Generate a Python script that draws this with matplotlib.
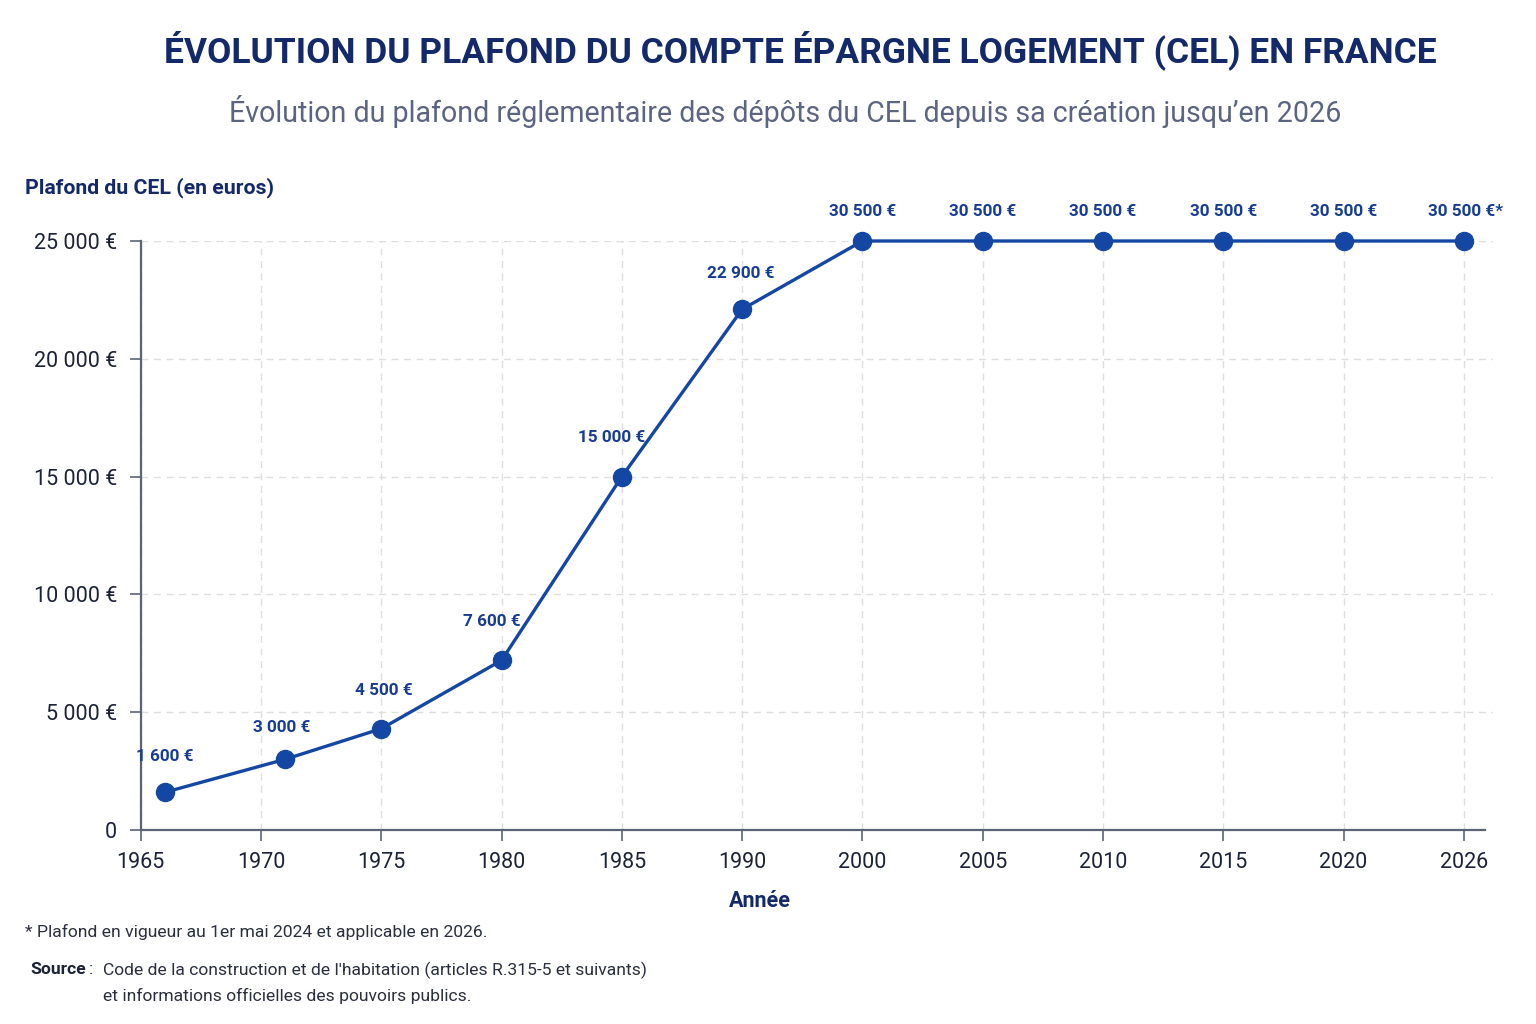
import matplotlib
matplotlib.use('Agg')
import matplotlib.pyplot as plt
import numpy as np

# Données
annees_ticks = [1965, 1970, 1975, 1980, 1985, 1990, 2000, 2005, 2010, 2015, 2020, 2026]
annees_points = [1966, 1971, 1975, 1980, 1985, 1990, 2000, 2005, 2010, 2015, 2020, 2026]
# hauteur des points telle que dessinée (axe plafonné à 25 000 €)
plafond_trace = [1600, 3000, 4300, 7200, 15000, 22100, 25000, 25000, 25000, 25000, 25000, 25000]
etiquettes = ["1 600 €", "3 000 €", "4 500 €", "7 600 €", "15 000 €", "22 900 €",
              "30 500 €", "30 500 €", "30 500 €", "30 500 €", "30 500 €", "30 500 €*"]
y_ticks = [0, 5000, 10000, 15000, 20000, 25000]
y_labels = ["0", "5 000 €", "10 000 €", "15 000 €", "20 000 €", "25 000 €"]

# décalages des étiquettes (en pixels)
decalages = [(0, 36), (-3, 32), (3, 38), (-10, 39), (-10, 39), (-1, 36),
             (0, 29), (0, 29), (0, 29), (0, 29), (0, 29), (2, 29)]

plt.rcParams['font.family'] = ['Roboto', 'DejaVu Sans']

BLEU = '#1447a3'
MARINE = '#14296a'
TEXTE = '#1c2238'
AXE = '#5a6478'
NOTE = '#2a2f3f'

fig = plt.figure(figsize=(15.36, 10.24), dpi=100)
fig.patch.set_facecolor('white')
ax = fig.add_axes([140.7 / 1536, 1 - 830 / 1024, 1352 / 1536, 589 / 1024])

idx = np.arange(len(annees_ticks))
x = np.interp(annees_points, annees_ticks, idx)

ax.plot(x, plafond_trace, color=BLEU, lw=2.4, marker='o', ms=13,
        markerfacecolor=BLEU, markeredgecolor=BLEU, clip_on=False, zorder=3)

for xi, yi, txt, (dx, dy) in zip(x, plafond_trace, etiquettes, decalages):
    ax.annotate(txt, (xi, yi), xytext=(dx * 0.72, dy * 0.72), textcoords='offset points',
                ha='center', va='center', fontsize=12.3, fontweight='bold', color='#173c94')

ax.set_xlim(0, 11.24)
ax.set_ylim(0, 25000)
ax.set_xticks(idx)
ax.set_xticklabels([str(a) for a in annees_ticks])
ax.set_yticks(y_ticks)
ax.set_yticklabels(y_labels)

ax.grid(True, color='#dedede', linestyle=(0, (5, 4)), linewidth=1.0)
ax.set_axisbelow(True)
for s in ['top', 'right']:
    ax.spines[s].set_visible(False)
for s in ['left', 'bottom']:
    ax.spines[s].set_color(AXE)
    ax.spines[s].set_linewidth(1.6)
ax.spines['bottom'].set_bounds(0, 11.18)

ax.tick_params(axis='both', direction='out', length=8, width=1.2, color=AXE,
               labelsize=15.5, labelcolor=TEXTE)
ax.tick_params(axis='y', pad=9)
ax.tick_params(axis='x', pad=8)

# Titres
fig.text(0.521, 1 - 50 / 1024, "ÉVOLUTION DU PLAFOND DU COMPTE ÉPARGNE LOGEMENT (CEL) EN FRANCE",
         ha='center', va='center', fontsize=25.5, fontweight='bold', color=MARINE)
fig.text(0.511, 1 - 111 / 1024, "Évolution du plafond réglementaire des dépôts du CEL depuis sa création jusqu’en 2026",
         ha='center', va='center', fontsize=20.6, color='#5b6480')

fig.text(25 / 1536, 1 - 188 / 1024, "Plafond du CEL (en euros)", ha='left', va='center',
         fontsize=15.3, fontweight='bold', color=MARINE)
fig.text(760 / 1536, 1 - 901 / 1024, "Année", ha='center', va='center',
         fontsize=15.5, fontweight='bold', color=MARINE)

# Notes
fig.text(25 / 1536, 1 - 932 / 1024, "* Plafond en vigueur au 1er mai 2024 et applicable en 2026.",
         ha='left', va='center', fontsize=12.6, color=NOTE)
fig.text(30 / 1536, 1 - 970 / 1024, "Source", ha='left', va='center',
         fontsize=12.6, fontweight='bold', color=TEXTE)
fig.text(89 / 1536, 1 - 970 / 1024, ":", ha='left', va='center', fontsize=12.6, color=NOTE)
fig.text(103 / 1536, 1 - 970 / 1024,
         "Code de la construction et de l'habitation (articles R.315-5 et suivants)",
         ha='left', va='center', fontsize=12.6, color=NOTE)
fig.text(103 / 1536, 1 - 996 / 1024, "et informations officielles des pouvoirs publics.",
         ha='left', va='center', fontsize=12.6, color=NOTE)

fig.savefig('out.png', dpi=100, facecolor='white')
